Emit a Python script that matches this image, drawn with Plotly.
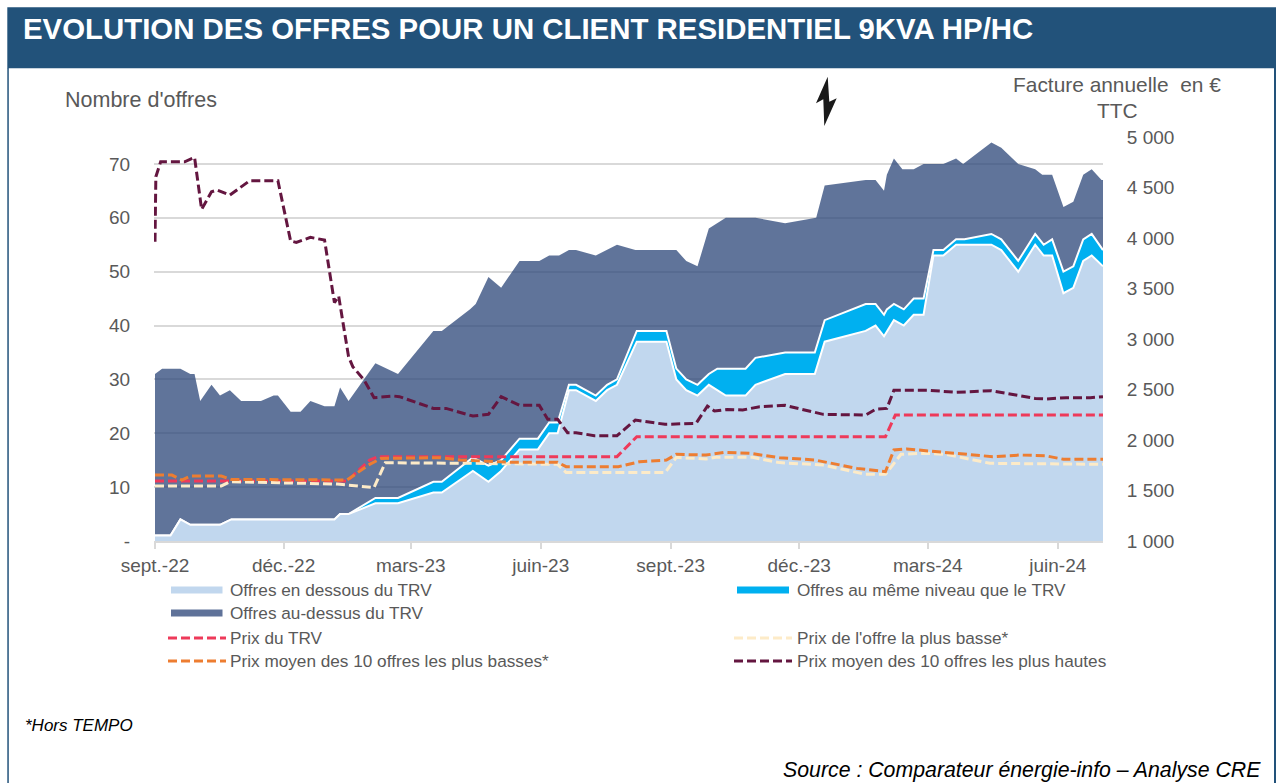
import pandas as pd
import plotly.graph_objects as go

W, H = 1276, 783
START = pd.Timestamp("2022-09-01")

# --- Data: days since 1 Sept 2022 ---
tick_dates = ["2022-09-01", "2022-12-01", "2023-03-01", "2023-06-01",
              "2023-09-01", "2023-12-01", "2024-03-01", "2024-06-01"]
tick_labels = ["sept.-22", "déc.-22", "mars-23", "juin-23",
               "sept.-23", "déc.-23", "mars-24", "juin-24"]

below_days = [0, 11, 18, 25, 46, 54, 127, 131, 137, 156, 172, 197, 203, 225, 236, 245, 258, 271, 279, 285,
              293, 298, 312, 320, 327, 341, 362, 369, 376, 384, 392, 398, 404, 418, 425, 446, 467, 474, 503, 510,
              516, 523, 530, 537, 544, 551, 558, 567, 592, 599, 611, 623, 629, 635, 643, 650, 657, 663, 671]
below_vals = [1, 1, 4, 3, 3, 4, 4, 5, 5, 7, 7, 9, 9, 13, 11, 13, 17, 17, 20, 20,
              28, 28, 26, 28, 29, 37, 37, 30, 28, 27, 29, 28, 27, 27, 29, 31, 31, 37, 39, 40,
              38, 41, 40, 42, 42, 53, 53, 55, 55, 54, 50, 55, 53, 53, 46, 47, 52, 53, 51]

same_top_days = [0, 11, 18, 25, 46, 54, 127, 131, 137, 156, 172, 197, 203, 225, 236, 245, 258, 271, 279, 285,
                 293, 298, 312, 320, 327, 341, 362, 369, 376, 384, 392, 398, 418, 425, 446, 467, 474, 503, 510,
                 516, 518, 523, 530, 537, 544, 551, 558, 567, 573, 592, 599, 611, 623, 629, 635, 643, 650, 657, 663, 671]
same_top_vals = [1, 1, 4, 3, 3, 4, 4, 5, 5, 8, 8, 11, 11, 15.5, 14, 15, 19, 19, 22, 22,
                 29, 29, 27, 29, 30, 39, 39, 32, 30, 29, 31, 32, 32, 34, 35, 35, 41, 44, 44,
                 42, 43, 44, 43, 45, 45, 54, 54, 56, 56, 57, 56, 52, 57, 55, 56, 50, 51, 56, 57, 54]

total_days = [0, 5, 18, 25, 28, 32, 40, 46, 53, 61, 75, 84, 87, 96, 103, 110, 120, 127, 131, 137, 156, 172, 197, 203,
              223, 227, 236, 245, 258, 272, 279, 286, 293, 298, 312, 327, 340, 369, 376, 384, 392, 398, 404, 425, 446,
              468, 474, 503, 510, 516, 518, 523, 529, 537, 544, 558, 567, 572, 592, 599, 611, 623, 628, 635, 643, 650,
              657, 663, 670, 671]
total_vals = [31, 32, 32, 31, 31, 26, 29, 27, 28, 26, 26, 27, 27, 24, 24, 26, 25, 25, 28.5, 26, 33, 31, 39, 39,
              43, 44, 49, 47, 52, 52, 53, 53, 54, 54, 53, 55, 54, 54, 52, 51, 58, 59, 60, 60, 59,
              60, 66, 67, 67, 65, 68, 71, 69, 69, 70, 70, 71, 70, 74, 73, 70, 69, 68, 68, 62, 63,
              68, 69, 67, 67]

trv_days = [0, 136, 152, 158, 327, 341, 517, 524, 671]
trv_vals = [1594, 1594, 1802, 1835, 1835, 2033, 2033, 2247, 2247]

lowest_days = [0, 47, 53, 129, 155, 163, 225, 253, 285, 291, 361, 369, 390, 397, 423, 442, 464, 473, 503, 517,
               528, 544, 560, 591, 671]
lowest_vals = [1545, 1545, 1587, 1564, 1528, 1775, 1769, 1762, 1759, 1677, 1677, 1828, 1812, 1828, 1828, 1776,
               1759, 1752, 1660, 1660, 1858, 1868, 1858, 1769, 1759]

low10_days = [0, 12, 19, 25, 47, 54, 136, 151, 160, 202, 216, 253, 285, 291, 328, 343, 362, 369, 390, 403, 421,
              442, 467, 497, 517, 523, 532, 558, 593, 612, 630, 643, 671]
low10_vals = [1653, 1653, 1604, 1643, 1643, 1610, 1604, 1752, 1818, 1825, 1802, 1779, 1779, 1736, 1736, 1785,
              1802, 1858, 1851, 1878, 1868, 1825, 1802, 1719, 1686, 1901, 1911, 1878, 1835, 1851, 1845, 1809, 1809]

high10_days = [0, 0.6, 4, 21, 28, 33, 40, 44, 53, 67, 87, 96, 100, 110, 120, 127, 130, 137, 140, 148, 155, 169, 173,
               197, 206, 225, 236, 245, 258, 272, 278, 285, 292, 298, 311, 327, 340, 361, 383, 391, 396, 405, 416,
               428, 446, 462, 473, 503, 510, 518, 523, 548, 567, 592, 623, 631, 645, 662, 671]
high10_vals = [3963, 4607, 4755, 4755, 4798, 4283, 4458, 4475, 4425, 4567, 4567, 3970, 3957, 4006, 3980, 3360, 3425,
               2825, 2726, 2594, 2419, 2435, 2429, 2313, 2313, 2237, 2254, 2429, 2343, 2343, 2205, 2205, 2072, 2072,
               2043, 2043, 2198, 2155, 2165, 2336, 2287, 2303, 2297, 2330, 2343, 2287, 2254, 2247, 2304, 2313, 2492,
               2492, 2472, 2488, 2412, 2406, 2419, 2419, 2429]

title_text = "EVOLUTION DES OFFRES POUR UN CLIENT RESIDENTIEL 9KVA HP/HC"

DARK = "rgba(43,70,120,0.75)"
BLUE = "#00B0F0"
LIGHT = "#C1D7EE"
RED = "#EE3A5A"
CREAM = "#FDEBC8"
ORANGE = "#ED7D31"
MAROON = "#641640"
GREY = "#595959"
FONT = "Liberation Sans"
BAR = "#22527A"
DASH = "9px,4px"


def dates(days):
    return [START + pd.Timedelta(days=d) for d in days]


def px(x):
    return x / W


def py(y):
    return 1 - y / H


fig = go.Figure()
fig.add_trace(go.Scatter(x=dates(total_days), y=total_vals, mode="lines", fill="tozeroy", fillcolor=DARK,
                         line=dict(width=0), name="Offres au-dessus du TRV", showlegend=False))
fig.add_trace(go.Scatter(x=dates(same_top_days), y=same_top_vals, mode="lines", fill="tozeroy", fillcolor=BLUE,
                         line=dict(width=2, color="white"), name="Offres au même niveau que le TRV",
                         showlegend=False))
fig.add_trace(go.Scatter(x=dates(below_days), y=below_vals, mode="lines", fill="tozeroy", fillcolor=LIGHT,
                         line=dict(width=2, color="white"), name="Offres en dessous du TRV", showlegend=False))
for name, d, v, c in [("Prix du TRV", trv_days, trv_vals, RED),
                      ("Prix de l'offre la plus basse*", lowest_days, lowest_vals, CREAM),
                      ("Prix moyen des 10 offres les plus basses*", low10_days, low10_vals, ORANGE),
                      ("Prix moyen des 10 offres les plus hautes", high10_days, high10_vals, MAROON)]:
    fig.add_trace(go.Scatter(x=dates(d), y=v, yaxis="y2", mode="lines", name=name, showlegend=False,
                             line=dict(width=3, color=c, dash=DASH)))

shapes = [
    dict(type="rect", xref="paper", yref="paper", x0=px(7.3), x1=px(1276), y0=py(68.3), y1=py(7.3),
         fillcolor=BAR, line_width=0, layer="below"),
    dict(type="rect", xref="paper", yref="paper", x0=px(7.3), x1=px(8.8), y0=py(783), y1=py(68),
         fillcolor=BAR, line_width=0, layer="below"),
    dict(type="rect", xref="paper", yref="paper", x0=px(1274), x1=px(1276), y0=py(783), y1=py(68),
         fillcolor=BAR, line_width=0, layer="below"),
]
bolt = [(827.7, 76.7), (816, 103.3), (823.3, 99.3), (824.3, 126), (836.7, 98.3), (829.3, 101.7)]
shapes.append(dict(type="path", xref="paper", yref="paper", fillcolor="#1A1A1A", line_width=0,
                   path="M " + " L ".join(f"{px(a):.5f} {py(b):.5f}" for a, b in bolt) + " Z"))

annotations = []


def text(t, x, y, size, color=GREY, anchor="left", **font):
    annotations.append(dict(text=t, xref="paper", yref="paper", x=px(x), y=py(y), xanchor=anchor, yanchor="middle",
                            showarrow=False, font=dict(family=FONT, size=size, color=color, **font)))


text(f"<b>{title_text}</b>", 21, 29, 29.4, "white")
text("Nombre d'offres", 63, 100, 21.5)
text("Facture annuelle  en €", 1117, 85, 20.9, anchor="center")
text("TTC", 1117, 110, 20.9, anchor="center")
text("<i>*Hors TEMPO</i>", 23, 725, 17, "black")
text("<i>Source : Comparateur énergie-info – Analyse CRE</i>", 1263, 770, 21.3, "black", anchor="right")

L_ROWS = [590, 613, 638, 661]
legend_patch = [("Offres en dessous du TRV", 171, 222.5, 228, L_ROWS[0], LIGHT),
                ("Offres au-dessus du TRV", 171, 222.5, 228, L_ROWS[1], "#5F7299"),
                ("Offres au même niveau que le TRV", 737, 789, 795, L_ROWS[0], BLUE)]
legend_dash = [("Prix du TRV", 168, 226, 228, L_ROWS[2], RED),
               ("Prix moyen des 10 offres les plus basses*", 168, 226, 228, L_ROWS[3], ORANGE),
               ("Prix de l'offre la plus basse*", 734, 792, 795, L_ROWS[2], CREAM),
               ("Prix moyen des 10 offres les plus hautes", 734, 792, 795, L_ROWS[3], MAROON)]
for t, a, b, tx, y, c in legend_patch:
    shapes.append(dict(type="rect", xref="paper", yref="paper", x0=px(a), x1=px(b), y0=py(y + 3.5), y1=py(y - 3.5),
                       fillcolor=c, line_width=0))
    text(t, tx, y, 17.2)
for t, a, b, tx, y, c in legend_dash:
    shapes.append(dict(type="line", xref="paper", yref="paper", x0=px(a), x1=px(b), y0=py(y), y1=py(y),
                       line=dict(color=c, width=3, dash=DASH)))
    text(t, tx, y, 17.2)

tickfont = dict(family=FONT, size=19, color=GREY)
fig.update_layout(
    width=W, height=H, autosize=False, margin=dict(l=0, r=0, t=0, b=0, autoexpand=False),
    paper_bgcolor="white", plot_bgcolor="white", showlegend=False,
    shapes=shapes, annotations=annotations,
    xaxis=dict(type="date", domain=[px(154), px(1103)], automargin=False,
               range=[START - pd.Timedelta(hours=17), START + pd.Timedelta(days=671)],
               tickmode="array", tickvals=tick_dates, ticktext=tick_labels, tickfont=tickfont,
               ticks="outside", ticklen=6, tickcolor="#D9D9D9", tickwidth=1.5,
               showline=True, linecolor="#D9D9D9", linewidth=1.5, showgrid=False, zeroline=False),
    yaxis=dict(domain=[py(541), py(137)], range=[0, 75], tickmode="array", automargin=False,
               tickvals=[0, 10, 20, 30, 40, 50, 60, 70], ticktext=["-", "10", "20", "30", "40", "50", "60", "70"],
               tickfont=tickfont, ticks="outside", ticklen=19, tickcolor="rgba(0,0,0,0)",
               showgrid=True, gridcolor="#D9D9D9", gridwidth=1.5, zeroline=False, showline=False),
    yaxis2=dict(overlaying="y", side="right", range=[1000, 5000], tickmode="array", automargin=False,
                tickvals=[1000, 1500, 2000, 2500, 3000, 3500, 4000, 4500, 5000],
                ticktext=["1 000", "1 500", "2 000", "2 500", "3 000", "3 500", "4 000", "4 500", "5 000"],
                tickfont=tickfont, ticks="outside", ticklen=19, tickcolor="rgba(0,0,0,0)",
                showgrid=False, zeroline=False, showline=False),
)

fig.write_html("out.html", config={"displayModeBar": False},
               post_script="document.body.style.margin='0';")
